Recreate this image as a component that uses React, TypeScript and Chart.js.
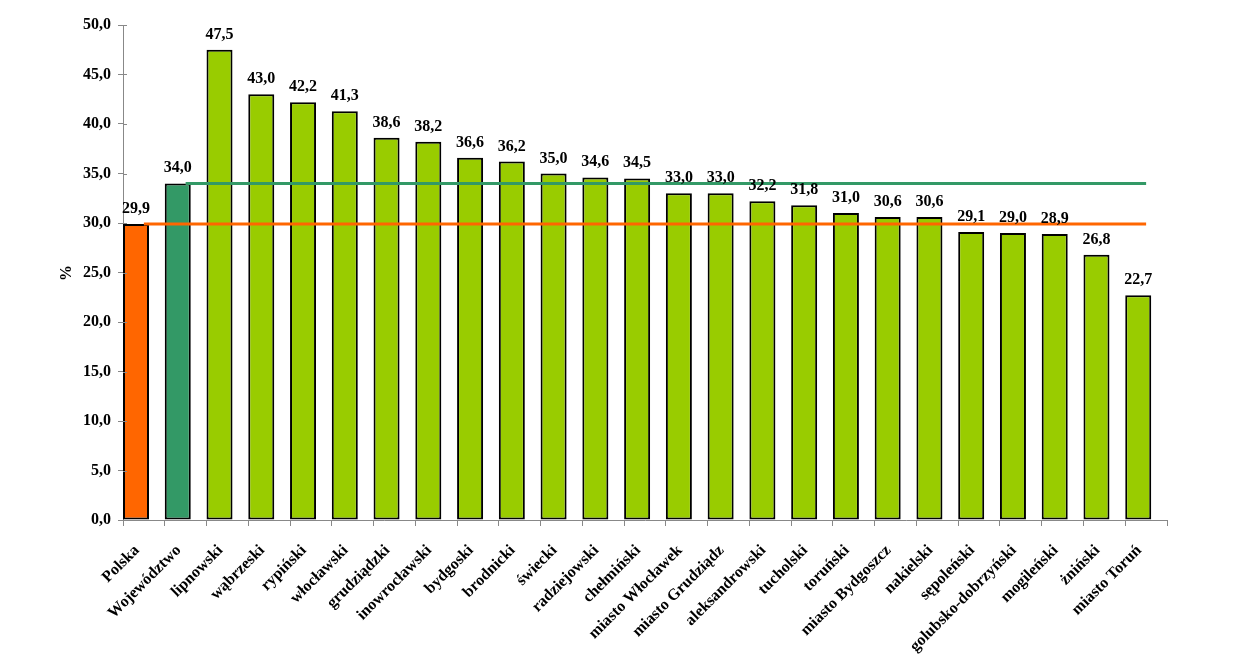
import React, { useEffect, useRef } from "react";
import { Chart, registerables } from "chart.js";

Chart.register(...registerables);

const categories = [
  "Polska", "Województwo", "lipnowski", "wąbrzeski", "rypiński", "włocławski",
  "grudziądzki", "inowrocławski", "bydgoski", "brodnicki", "świecki", "radziejowski",
  "chełmiński", "miasto Włocławek", "miasto Grudziądz", "aleksandrowski", "tucholski",
  "toruński", "miasto Bydgoszcz", "nakielski", "sępoleński", "golubsko-dobrzyński",
  "mogileński", "żniński", "miasto Toruń",
];
const values = [
  29.9, 34.0, 47.5, 43.0, 42.2, 41.3, 38.6, 38.2, 36.6, 36.2, 35.0, 34.6, 34.5,
  33.0, 33.0, 32.2, 31.8, 31.0, 30.6, 30.6, 29.1, 29.0, 28.9, 26.8, 22.7,
];
const polskaLevel = 29.9;
const wojLevel = 34.0;
const yTicks = [0, 5, 10, 15, 20, 25, 30, 35, 40, 45, 50];

const FONT = "'Liberation Serif', 'Times New Roman', serif";
const fmt = (v: number) => v.toFixed(1).replace(".", ",");

const barColors = values.map((_, i) => (i === 0 ? "#FF6600" : i === 1 ? "#339966" : "#99CC00"));

const labelPlugin = {
  id: "labels",
  afterDatasetsDraw(chart: any) {
    const ctx = chart.ctx;
    const meta = chart.getDatasetMeta(2);
    const area = chart.chartArea;
    ctx.save();
    // inner halves of the y tick marks
    ctx.strokeStyle = "#888";
    ctx.lineWidth = 1;
    const ys = chart.scales.y;
    yTicks.forEach((v) => {
      const y = Math.round(ys.getPixelForValue(v)) + 0.5;
      ctx.beginPath();
      ctx.moveTo(area.left, y);
      ctx.lineTo(area.left + 4, y);
      ctx.stroke();
    });
    // value labels
    ctx.font = `bold 16px ${FONT}`;
    ctx.fillStyle = "#000";
    ctx.textAlign = "center";
    ctx.textBaseline = "alphabetic";
    meta.data.forEach((el: any, i: number) => {
      ctx.fillText(fmt(values[i]), el.x, el.y - 11);
    });
    // category labels
    ctx.font = `bold 16px ${FONT}`;
    ctx.textAlign = "right";
    ctx.textBaseline = "middle";
    meta.data.forEach((el: any, i: number) => {
      ctx.save();
      ctx.translate(el.x + 1, area.bottom + 28);
      ctx.rotate(-Math.PI / 4);
      ctx.fillText(categories[i], 0, 0);
      ctx.restore();
    });
    // y title
    ctx.font = `bold 16px ${FONT}`;
    ctx.textAlign = "center";
    ctx.translate(67, 273);
    ctx.rotate(-Math.PI / 2);
    ctx.textBaseline = "middle";
    ctx.fillText("%", 0, 0);
    ctx.restore();
  },
};

export default function App() {
  const ref = useRef<HTMLCanvasElement>(null);
  useEffect(() => {
    if (!ref.current) return;
    const chart = new Chart(ref.current, {
      type: "bar",
      data: {
        labels: categories,
        datasets: [
          {
            type: "line",
            data: categories.map((_, i) => (i >= 1 ? wojLevel : null)),
            borderColor: "#339966",
            borderWidth: 3,
            pointRadius: 0,
            order: 0,
          } as any,
          {
            type: "line",
            data: categories.map(() => polskaLevel),
            borderColor: "#FF6600",
            borderWidth: 3,
            pointRadius: 0,
            order: 0,
          } as any,
          {
            type: "bar",
            data: values,
            backgroundColor: barColors,
            borderColor: "#000",
            borderWidth: 2,
            borderSkipped: false,
            barPercentage: 1.65,
            categoryPercentage: 0.755,
            order: 1,
          },
          {
            // empty companion series: keeps the bars in the left part of each category, as in the original
            type: "bar",
            data: categories.map(() => null),
            barPercentage: 1.65,
            categoryPercentage: 0.755,
            order: 2,
          },
        ],
      },
      options: {
        responsive: false,
        animation: false,
        layout: { padding: { left: 0, right: 90, top: 25, bottom: 0 } },
        plugins: { legend: { display: false }, tooltip: { enabled: false } },
        scales: {
          x: {
            offset: true,
            grid: { display: true, drawOnChartArea: false, offset: true, color: "#888", tickLength: 6 },
            border: { color: "#888", width: 1 },
            ticks: { display: false, autoSkip: false },
            afterFit: (s: any) => { s.height = 138; },
          },
          y: {
            min: 0,
            max: 50,
            afterBuildTicks: (s: any) => { s.ticks = yTicks.map((v) => ({ value: v })); },
            grid: { display: true, drawOnChartArea: false, color: "#888", tickLength: 5 },
            border: { color: "#888", width: 1 },
            ticks: {
              font: { family: FONT, size: 16, weight: "bold" },
              color: "#000",
              padding: 7,
              callback: (v: any) => fmt(Number(v)),
            },
            afterFit: (s: any) => { s.width = 123; },
          },
        },
      },
      plugins: [labelPlugin],
    });
    return () => chart.destroy();
  }, []);
  return (
    <div style={{ position: "fixed", left: 0, top: 0, width: 1257, height: 658, background: "#fff" }}>
      <canvas ref={ref} width={1257} height={658} />
    </div>
  );
}
